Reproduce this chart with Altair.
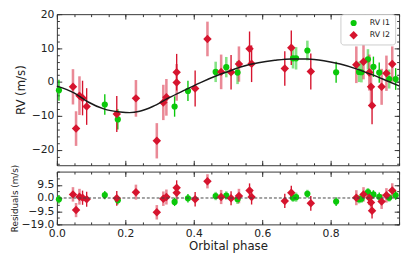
import altair as alt
import pandas as pd

# ---------------- data ----------------
# RV I1 (green circles)
i1_phase = [0.006, 0.140, 0.178, 0.344, 0.383, 0.464, 0.495, 0.528, 0.690, 0.699,
            0.732, 0.816, 0.883, 0.890, 0.909, 0.925, 0.942, 0.971, 0.990]
i1_rv = [-2.4, -6.6, -11.0, -7.2, -2.6, 3.0, 4.4, 2.8, 7.0, 7.0,
         9.3, 2.9, 3.0, 2.9, 6.7, 4.5, 2.8, 0.9, 0.9]
i1_err = [3.1, 3.0, 3.0, 3.0, 3.0, 3.0, 3.0, 3.4, 3.0, 3.3,
          2.9, 3.1, 3.0, 3.0, 3.0, 3.0, 3.0, 2.8, 3.2]
i1_res = [-0.9, 2.1, -1.6, -2.8, -0.2, 1.4, 1.8, -0.9, 0.2, 0.6,
          3.0, -2.6, -0.9, -0.5, 4.2, 2.6, 0.9, 0.2, 1.9]
i1_bar = ["dark", "dark", "dark", "dark", "dark", "light", "light", "light", "light", "light",
          "light", "dark", "light", "light", "light", "dark", "dark", "light", "dark"]

# RV I2 (red diamonds)
i2_phase = [0.047, 0.056, 0.066, 0.075, 0.087, 0.175, 0.231, 0.292, 0.311, 0.320,
            0.350, 0.350, 0.404, 0.440, 0.480, 0.509, 0.532, 0.563, 0.569, 0.666,
            0.685, 0.742, 0.875, 0.896, 0.913, 0.918, 0.921, 0.949, 0.963, 0.980]
i2_rv = [-1.4, -13.7, -4.0, -4.7, -7.2, -9.4, -4.8, -17.3, -6.0, -4.5,
         2.9, -0.1, -1.9, 12.7, 3.0, 2.9, 5.3, 9.8, 5.4, 4.0,
         10.1, 3.1, 5.1, 6.0, 2.8, -1.4, -6.9, -1.4, 2.6, 5.3]
i2_err = [5.2, 5.1, 5.7, 5.1, 5.4, 5.3, 5.4, 5.2, 5.2, 5.4,
          5.4, 5.4, 5.3, 5.1, 5.1, 5.1, 5.2, 5.1, 5.4, 5.1,
          5.1, 5.3, 5.4, 5.2, 5.3, 5.3, 5.5, 5.3, 5.2, 5.2]
i2_res = [2.6, -8.7, 0.9, 0.2, -0.9, -0.2, 4.2, -10.3, -0.5, 0.7,
          7.3, 3.8, -0.9, 12.0, 0.7, -0.2, 1.4, 5.4, 0.7, -2.1,
          3.8, -3.8, 0.2, 2.6, 0.2, -3.3, -9.2, -2.6, 1.9, 5.4]
i2_bar = ["light", "light", "light", "dark", "dark", "dark", "light", "light", "light", "light",
          "dark", "light", "dark", "light", "light", "dark", "light", "dark", "dark", "dark",
          "dark", "dark", "light", "light", "light", "light", "dark", "light", "light", "light"]

# Keplerian model curve
model_phase = [0.0, 0.05, 0.09, 0.137, 0.185, 0.213, 0.242, 0.28, 0.328, 0.375, 0.423, 0.47,
               0.5, 0.542, 0.589, 0.637, 0.685, 0.732, 0.78, 0.828, 0.875, 0.923, 0.971, 1.0]
model_rv = [-1.2, -3.2, -5.8, -7.9, -8.8, -9.0, -8.6, -7.2, -4.6, -2.3, 0.0, 2.0,
            3.1, 4.6, 5.7, 6.4, 6.8, 6.8, 6.3, 5.3, 3.9, 2.1, 0.1, -1.1]

zero_line = [0.0]

instruments = ["RV I1", "RV I2"]
colors = ["#0ac80a", "#d6142e"]
shapes = ["circle", "diamond"]

x_major = [0.0, 0.2, 0.4, 0.6, 0.8]
x_minor = [k / 20 for k in range(21)]
top_major = [-20, -10, 0, 10, 20]
top_minor = [-24 + 2 * k for k in range(23)]
res_major = [-19.0, -9.5, 0.0, 9.5]
res_minor = [-19 + 4.75 * k for k in range(9)]

# ---------------- tables ----------------
rows = []
for inst, ph, rv, er, rs, br in [("RV I1", i1_phase, i1_rv, i1_err, i1_res, i1_bar),
                                 ("RV I2", i2_phase, i2_rv, i2_err, i2_res, i2_bar)]:
    for p, v, e, r, b in zip(ph, rv, er, rs, br):
        rows.append(dict(inst=inst, phase=p, rv=v, lo=v - e, hi=v + e,
                         res=r, rlo=r - e, rhi=r + e, bar=b))
df = pd.DataFrame(rows)
model_df = pd.DataFrame({"phase": model_phase, "rv": model_rv})
zero_df = pd.DataFrame({"y": zero_line})

xs = alt.Scale(domain=[0.0, 1.0], nice=False, zero=False)
ys_top = alt.Scale(domain=[-24.5, 20], nice=False, zero=False)
ys_res = alt.Scale(domain=[-19, 19], nice=False, zero=False)

TICK = "#333333"
FONT = "DejaVu Sans"


def tick_axis(orient, values, size):
    return alt.Axis(orient=orient, values=values, labels=False, ticks=True,
                    tickSize=size, offset=-size, domain=False, grid=False,
                    title=None, tickColor=TICK, tickWidth=1)


def panel(ycol, locol, hicol, ys, ymajor, yminor, ylab_axis, xlab_axis, with_legend, extra):
    base = alt.Chart(df)
    X = alt.X("phase:Q", scale=xs, axis=None)
    bars = []
    for inst, col in zip(instruments, colors):
        sub = base.transform_filter(alt.datum.inst == inst)
        bars.append(sub.transform_filter(alt.datum.bar == "light").mark_rule(
            strokeWidth=2.6, opacity=0.5, color=col).encode(
            x=X, y=alt.Y(f"{locol}:Q", scale=ys, axis=None), y2=f"{hicol}:Q"))
    for inst, col in zip(instruments, colors):
        sub = base.transform_filter(alt.datum.inst == inst)
        bars.append(sub.transform_filter(alt.datum.bar == "dark").mark_rule(
            strokeWidth=1.4, opacity=1, color=col).encode(
            x=X, y=alt.Y(f"{locol}:Q", scale=ys, axis=None), y2=f"{hicol}:Q"))
    if with_legend:
        leg = alt.Legend(title=None, orient="none", legendX=290, legendY=0, padding=5,
                         strokeColor="#cccccc", fillColor="white", cornerRadius=3,
                         labelFontSize=8, labelFont=FONT, labelColor="#222",
                         symbolSize=40, symbolOffset=4, labelOffset=12,
                         rowPadding=4, symbolStrokeWidth=0, symbolOpacity=1)
    else:
        leg = None
    pts = base.mark_point(filled=True, opacity=1, strokeWidth=0).encode(
        x=X, y=alt.Y(f"{ycol}:Q", scale=ys, axis=None),
        color=alt.Color("inst:N", scale=alt.Scale(domain=instruments, range=colors), legend=leg),
        shape=alt.Shape("inst:N", scale=alt.Scale(domain=instruments, range=shapes), legend=leg),
        size=alt.Size("inst:N", scale=alt.Scale(domain=instruments, range=[40, 75]), legend=None))

    axis_pairs = [
        (tick_axis("bottom", x_minor, 2.5), tick_axis("left", yminor, 2.5)),
        (tick_axis("bottom", x_major, 5), tick_axis("left", ymajor, 5)),
        (tick_axis("top", x_minor, 2.5), tick_axis("right", yminor, 2.5)),
        (tick_axis("top", x_major, 5), tick_axis("right", ymajor, 5)),
        (xlab_axis, ylab_axis),
    ]
    axis_layers = []
    for ax_x, ax_y in axis_pairs:
        axis_layers.append(base.mark_point(opacity=0).encode(
            x=alt.X("phase:Q", scale=xs, axis=ax_x),
            y=alt.Y(f"{ycol}:Q", scale=ys, axis=ax_y)))
    layers = bars + [pts] + extra + axis_layers
    return alt.layer(*layers).resolve_axis(x="independent", y="independent")


model_line = alt.Chart(model_df).mark_line(color="#1a1a1a", strokeWidth=1.5,
                                           interpolate="monotone").encode(
    x=alt.X("phase:Q", scale=xs, axis=None),
    y=alt.Y("rv:Q", scale=ys_top, axis=None))

zero_rule = alt.Chart(zero_df).mark_rule(color="#444", strokeWidth=1,
                                         strokeDash=[3, 2]).encode(
    y=alt.Y("y:Q", scale=ys_res, axis=None))

top_ylab = alt.Axis(orient="left", values=top_major, format="d", ticks=False, domain=False,
                    grid=False, labelPadding=3, labelFontSize=11, title="RV (m/s)",
                    titleFontSize=12, titleFontWeight="normal", titlePadding=4)
res_ylab = alt.Axis(orient="left", values=res_major, format=".1f", ticks=False, domain=False,
                    grid=False, labelPadding=3, labelFontSize=11, title="Residuals (m/s)",
                    titleFontSize=9, titleFontWeight="normal", titlePadding=2)
res_xlab = alt.Axis(orient="bottom", values=x_major, format=".1f", ticks=False, domain=False,
                    grid=False, labelPadding=3, labelFontSize=11, labelFlush=False,
                    title="Orbital phase", titleFontSize=12, titleFontWeight="normal",
                    titlePadding=3)

top = panel("rv", "lo", "hi", ys_top, top_major, top_minor, top_ylab, None, True,
            [model_line]).properties(width=350, height=154.5)
bottom = panel("res", "rlo", "rhi", ys_res, res_major, res_minor, res_ylab, res_xlab, False,
               [zero_rule]).properties(width=350, height=54)

chart = alt.vconcat(top, bottom, spacing=-4).resolve_legend(
    color="independent", shape="independent", size="independent"
).properties(padding={"left": 1, "top": -3.5, "right": 0, "bottom": 0}).configure_view(
    stroke=TICK, strokeWidth=1
).configure_axis(
    labelFont=FONT, titleFont=FONT, labelColor="#222", titleColor="#222", grid=False
)

chart.save("out.html", embed_options={"renderer": "svg", "actions": False})
